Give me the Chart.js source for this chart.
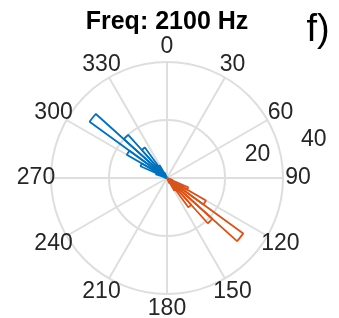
<!DOCTYPE html>
<html>
<head>
<meta charset="utf-8">
<script src="https://cdn.jsdelivr.net/npm/chart.js@4"></script>
<style>
  html, body { margin: 0; padding: 0; background: #fff; }
  #wrap { width: 339px; height: 318px; }
</style>
</head>
<body>
<div id="wrap"><canvas id="myChart"></canvas></div>
<script>
// bins are 6 degrees wide, 0 at the top, clockwise
const binWidth = 6;
const angleTicks = ["0", "30", "60", "90", "120", "150", "180", "210", "240", "270", "300", "330"];
const radialTicks = [20, 40];

const blueBins   = [282, 288, 294, 300, 306, 312, 318, 324, 330];
const blueCounts = [1,   4,   10,  16,  33,  20,  13,  5,   2];

const orangeBins   = [108, 114, 120, 126,  132, 138,  144, 150];
const orangeCounts = [2,   8,   15.5, 32.5, 21,  12.5, 5,   2];

const nBins = 360 / binWidth;
const binLabels = [];
for (let i = 0; i < nBins; i++) binLabels.push(String(i * binWidth));

function toSeries(bins, counts) {
  const out = new Array(nBins).fill(0);
  bins.forEach((b, i) => { out[b / binWidth] = counts[i]; });
  return out;
}

const gridColor = '#dedede';
const textColor = '#262626';

// angle labels, r labels and the panel letter
const polarLabels = {
  id: 'polarLabels',
  afterDraw(chart) {
    const ctx = chart.ctx;
    const s = chart.scales.r;
    ctx.save();
    ctx.fillStyle = textColor;
    ctx.font = '23px "Liberation Sans", Arial, sans-serif';
    ctx.textAlign = 'center';
    ctx.textBaseline = 'middle';
    angleTicks.forEach((t, k) => {
      const p = s.getPointPosition(k * 30 / binWidth, s.drawingArea + 15);
      ctx.fillText(t, p.x, p.y);
    });
    const a = 75.5 * Math.PI / 180;
    radialTicks.forEach(v => {
      const d = s.getDistanceFromCenterForValue(v) + 35.5;
      ctx.fillText(String(v), s.xCenter + d * Math.sin(a), s.yCenter - d * Math.cos(a));
    });
    ctx.fillStyle = '#000';
    ctx.font = '38px "Liberation Sans", Arial, sans-serif';
    ctx.fillText('f)', 318, 31);
    ctx.restore();
  }
};

const myChart = new Chart(document.getElementById('myChart'), {
  type: 'polarArea',
  data: {
    labels: binLabels,
    datasets: [
      {
        label: 'orange',
        data: toSeries(orangeBins, orangeCounts),
        backgroundColor: 'rgba(0,0,0,0)',
        borderColor: '#D95319',
        borderWidth: c => c.raw > 0 ? 1.8 : 0
      },
      {
        label: 'blue',
        data: toSeries(blueBins, blueCounts),
        backgroundColor: 'rgba(0,0,0,0)',
        borderColor: '#0072BD',
        borderWidth: c => c.raw > 0 ? 1.8 : 0
      }
    ]
  },
  options: {
    responsive: true,
    maintainAspectRatio: false,
    animation: false,
    layout: { padding: { left: 51, right: 56, top: 4, bottom: 24 } },
    scales: {
      r: {
        min: 0,
        max: 40,
        startAngle: 0,
        ticks: { display: false, stepSize: 20 },
        grid: { circular: true, color: gridColor, lineWidth: 2 },
        angleLines: {
          display: true,
          color: gridColor,
          lineWidth: c => c.index % 5 === 0 ? 2 : 0
        },
        pointLabels: { display: false }
      }
    },
    plugins: {
      legend: { display: false },
      tooltip: { enabled: false },
      title: {
        display: true,
        text: 'Freq: 2100 Hz',
        color: '#000',
        font: { family: '"Liberation Sans", Arial, sans-serif', size: 25, weight: 'bold' },
        padding: { top: 3, bottom: 25 }
      }
    }
  },
  plugins: [polarLabels]
});
</script>
</body>
</html>
